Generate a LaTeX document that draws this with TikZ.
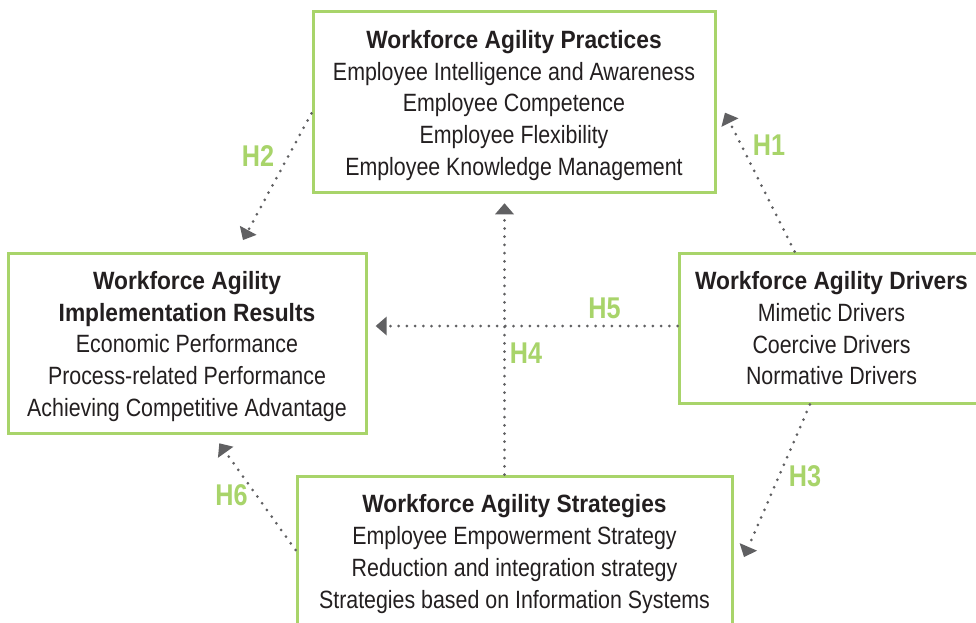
\documentclass[tikz,border=0pt]{standalone}
\usepackage{fontspec}
\setmainfont{Liberation Sans}[FakeStretch=0.855]
\newfontfamily\boldf{Liberation Sans}[FakeStretch=0.91]
\newfontfamily\labf{Liberation Sans}[FakeStretch=0.84]
\usetikzlibrary{arrows.meta,calc}
\definecolor{agreen}{HTML}{A8D46A}
\definecolor{agray}{HTML}{606062}
\definecolor{atext}{HTML}{231F20}
\begin{document}
\begin{tikzpicture}[x=1pt,y=-1pt,
  box/.style={draw=agreen, line width=3pt, inner sep=0pt},
  btext/.style={inner sep=0pt, align=center, text=atext,
    font=\fontsize{25}{31.7}\selectfont},
  conn/.style={draw=agray, line width=3pt, line cap=round, dash pattern=on 0pt off 8.2pt,
    -{Triangle[length=11pt,width=19pt,line width=0pt]}},
  hlab/.style={text=agreen, inner sep=0pt, font=\labf\bfseries\fontsize{30}{30}\selectfont}
]
\fill[white] (0,0) rectangle (976,622);
\useasboundingbox (0,0) rectangle (976,622);
\clip (0,0) rectangle (976,622);

\node[box, minimum width=402pt, minimum height=181pt] (prac) at (514,101.5) {};
\node[btext] (pract) at ($(prac.center)+(0,4)$)
  {{\boldf\bfseries Workforce Agility Practices}\\
   Employee Intelligence and Awareness\\
   Employee Competence\\
   Employee Flexibility\\
   Employee Knowledge Management};

\node[box, minimum width=358pt, minimum height=180pt] (res) at (187,343) {};
\node[btext] (rest) at ($(res.center)+(0,3.5)$)
  {{\boldf\bfseries Workforce Agility}\\
   {\boldf\bfseries Implementation Results}\\
   Economic Performance\\
   Process-related Performance\\
   Achieving Competitive Advantage};

\node[box, minimum width=305pt, minimum height=150pt] (driv) at (831.5,328) {};
\node[btext] (drivt) at ($(driv.center)+(0,0.5)$)
  {{\boldf\bfseries Workforce Agility Drivers}\\
   Mimetic Drivers\\
   Coercive Drivers\\
   Normative Drivers};

\node[box, minimum width=435pt, minimum height=152pt] (strat) at (514.5,552) {};
\node[btext] (stratt) at ($(strat.center)+(0,2)$)
  {{\boldf\bfseries Workforce Agility Strategies}\\
   Employee Empowerment Strategy\\
   Reduction and integration strategy\\
   Strategies based on Information Systems};

\coordinate (t1) at (725,112.7);
\coordinate (t2) at (243,240);
\coordinate (t3) at (744,557);
\coordinate (t4) at (504.5,203.3);
\coordinate (t5) at (375.7,326);
\coordinate (t6) at (219.3,443.3);

\draw[conn] ($(driv.north west)!0.38!(driv.north east)$) -- (t1);
\draw[conn] ($(prac.north west)!0.564!(prac.south west)$) -- (t2);
\draw[conn] ($(driv.south west)!0.43!(driv.south east)$) -- (t3);
\draw[conn] (strat.north -| t4) -- (t4);
\draw[conn] (driv.west |- t5) -- (t5);
\draw[conn] ($(strat.north west)!0.487!(strat.south west)$) -- (t6);

\node[hlab] (h1) at (769,145) {H1};
\node[hlab] (h2) at (258,156) {H2};
\node[hlab] (h3) at (805,476.5) {H3};
\node[hlab] (h4) at (526,353.5) {H4};
\node[hlab] (h5) at (604.5,308) {H5};
\node[hlab] (h6) at (231.5,495.5) {H6};
\end{tikzpicture}
\end{document}
